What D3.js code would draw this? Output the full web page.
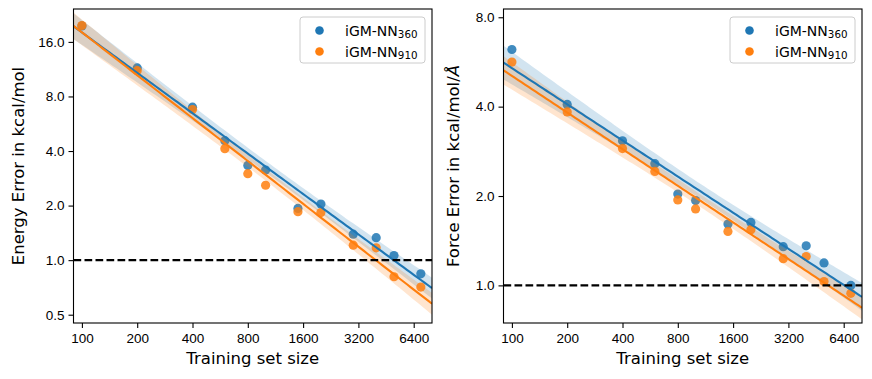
<!DOCTYPE html>
<html>
<head>
<meta charset="utf-8">
<script src="https://cdn.jsdelivr.net/npm/d3@7"></script>
<style>
  body { margin: 0; background: #fff; }
  svg { display: block; font-family: "DejaVu Sans", sans-serif; }
  .axis text { font-size: 13.5px; fill: #000; }
  .axis path, .axis line { stroke: #000; stroke-width: 1.1; }
</style>
</head>
<body>
<div id="chart"></div>
<script>
// training set sizes (x) shared by both panels
const trainSizes = [100, 200, 400, 600, 800, 1000, 1500, 2000, 3000, 4000, 5000, 7000]

// energy errors in kcal/mol
const energy360 = [19.6, 11.5, 6.98, 4.56, 3.33, 3.14, 1.93, 2.04, 1.39, 1.33, 1.06, 0.84]
const energy910 = [19.7, 11.1, 6.77, 4.12, 3.0, 2.59, 1.85, 1.83, 1.21, 1.17, 0.81, 0.71]

// force errors in kcal/mol/A
const force360 = [6.23, 4.07, 3.07, 2.57, 2.03, 1.93, 1.61, 1.63, 1.35, 1.36, 1.19, 1.0]
const force910 = [5.65, 3.84, 2.89, 2.42, 1.94, 1.81, 1.52, 1.54, 1.23, 1.25, 1.03, 0.94]

// tick labels
const xTicks = [100, 200, 400, 800, 1600, 3200, 6400]
const energyTicks = [0.5, 1, 2, 4, 8, 16]
const forceTicks = [1, 2, 4, 8]

const seriesNames = ["360", "910"]
const colors = ["#1f77b4", "#ff7f0e"]

const width = 872
const height = 379

const svg = d3.select("#chart")
  .append("svg")
  .attr("width", width)
  .attr("height", height)

// least squares fit in log-log space with 95% confidence band of the mean
const fit = (xs, ys) => {
  const lx = xs.map(Math.log)
  const ly = ys.map(Math.log)
  const n = lx.length
  const mx = d3.mean(lx)
  const my = d3.mean(ly)
  const sxx = d3.sum(lx, v => (v - mx) ** 2)
  const sxy = d3.sum(lx, (v, i) => (v - mx) * (ly[i] - my))
  const slope = sxy / sxx
  const icept = my - slope * mx
  const sse = d3.sum(lx, (v, i) => (ly[i] - icept - slope * v) ** 2)
  const s = Math.sqrt(sse / (n - 2))
  const t = 2.228 // t(0.975, df = 10)
  return x => {
    const l = Math.log(x)
    const yhat = icept + slope * l
    const half = t * s * Math.sqrt(1 / n + (l - mx) ** 2 / sxx)
    return { y: Math.exp(yhat), lo: Math.exp(yhat - half), hi: Math.exp(yhat + half) }
  }
}

const drawPanel = (cfg) => {
  const { left, right, top, bottom } = cfg
  const g = svg.append("g")

  const x = d3.scaleLog().base(2)
    .domain([90, 8050])
    .range([left, right])

  const y = d3.scaleLog().base(2)
    .domain(cfg.yDomain)
    .range([bottom, top])

  const clipId = "clip-" + cfg.id
  g.append("clipPath").attr("id", clipId)
    .append("rect")
    .attr("x", left).attr("y", top)
    .attr("width", right - left).attr("height", bottom - top)

  const plot = g.append("g").attr("clip-path", `url(#${clipId})`)

  const xs = d3.range(0, 101).map(i => x.invert(left + (right - left) * i / 100))

  const fits = cfg.series.map(ys => fit(trainSizes, ys))

  // scatter and bands, in draw order
  cfg.series.forEach((ys, k) => {
    plot.selectAll(null)
      .data(trainSizes)
      .join("circle")
      .attr("cx", d => x(d))
      .attr("cy", (d, i) => y(ys[i]))
      .attr("r", 4.6)
      .attr("fill", colors[k])
      .attr("fill-opacity", 0.85)

    const band = d3.area()
      .x(d => x(d))
      .y0(d => y(fits[k](d).lo))
      .y1(d => y(fits[k](d).hi))

    plot.append("path")
      .datum(xs)
      .attr("d", band)
      .attr("fill", colors[k])
      .attr("fill-opacity", 0.2)
  })

  // regression lines
  cfg.series.forEach((ys, k) => {
    const line = d3.line()
      .x(d => x(d))
      .y(d => y(fits[k](d).y))
    plot.append("path")
      .datum(xs)
      .attr("d", line)
      .attr("fill", "none")
      .attr("stroke", colors[k])
      .attr("stroke-width", 2.1)
  })

  // 1.0 reference line
  plot.append("line")
    .attr("x1", left).attr("x2", right)
    .attr("y1", y(1)).attr("y2", y(1))
    .attr("stroke", "#000")
    .attr("stroke-width", 2.1)
    .attr("stroke-dasharray", "7.7,3.3")

  // frame
  g.append("rect")
    .attr("x", left).attr("y", top)
    .attr("width", right - left).attr("height", bottom - top)
    .attr("fill", "none")
    .attr("stroke", "#000")
    .attr("stroke-width", 1.1)

  const xAxis = d3.axisBottom(x)
    .tickValues(xTicks)
    .tickFormat(d3.format("d"))
    .tickSize(5)
    .tickPadding(4)
    .tickSizeOuter(0)

  const yAxis = d3.axisLeft(y)
    .tickValues(cfg.yTicks)
    .tickFormat(d3.format(".1f"))
    .tickSize(5)
    .tickPadding(4)
    .tickSizeOuter(0)

  g.append("g")
    .attr("class", "axis")
    .attr("transform", `translate(0,${bottom})`)
    .call(xAxis)
    .call(a => a.select(".domain").remove())
    .selectAll("text").attr("dy", "0.85em")

  g.append("g")
    .attr("class", "axis")
    .attr("transform", `translate(${left},0)`)
    .call(yAxis)
    .call(a => a.select(".domain").remove())

  // axis labels
  g.append("text")
    .attr("x", (left + right) / 2)
    .attr("y", 364)
    .attr("text-anchor", "middle")
    .attr("font-size", 16.5)
    .text("Training set size")

  const ylab = g.append("text")
    .attr("transform", `translate(${cfg.yLabelX},${(top + bottom) / 2}) rotate(-90)`)
    .attr("text-anchor", "middle")
    .attr("font-size", 16.5)
  ylab.append("tspan").text(cfg.yLabel)
  if (cfg.yLabelItalic) {
    ylab.append("tspan").attr("font-style", "italic").text(cfg.yLabelItalic)
  }

  // legend
  const lx = right - 132
  const ly = top + 8
  const legend = g.append("g")
  legend.append("rect")
    .attr("x", lx).attr("y", ly)
    .attr("width", 125).attr("height", 46)
    .attr("rx", 3)
    .attr("fill", "#fff")
    .attr("fill-opacity", 0.8)
    .attr("stroke", "#ccc")
    .attr("stroke-width", 1)

  seriesNames.forEach((name, k) => {
    const cy = ly + 13.5 + k * 21
    legend.append("circle")
      .attr("cx", lx + 19.5)
      .attr("cy", cy)
      .attr("r", 4.3)
      .attr("fill", colors[k])
    const t = legend.append("text")
      .attr("x", lx + 45)
      .attr("y", cy + 5)
      .attr("font-size", 14)
    t.append("tspan").text("iGM-NN")
    t.append("tspan")
      .attr("font-size", 10.3)
      .attr("dy", 2)
      .text(name)
  })
}

drawPanel({
  id: "energy",
  left: 73.5, right: 432, top: 9, bottom: 323,
  yDomain: [0.45, 24.3],
  yTicks: energyTicks,
  series: [energy360, energy910],
  yLabel: "Energy Error in kcal/mol",
  yLabelX: 24
})

drawPanel({
  id: "force",
  left: 503.5, right: 862, top: 9, bottom: 323,
  yDomain: [0.747, 8.53],
  yTicks: forceTicks,
  series: [force360, force910],
  yLabel: "Force Error in kcal/mol/",
  yLabelItalic: "Å",
  yLabelX: 459
})
</script>
</body>
</html>
